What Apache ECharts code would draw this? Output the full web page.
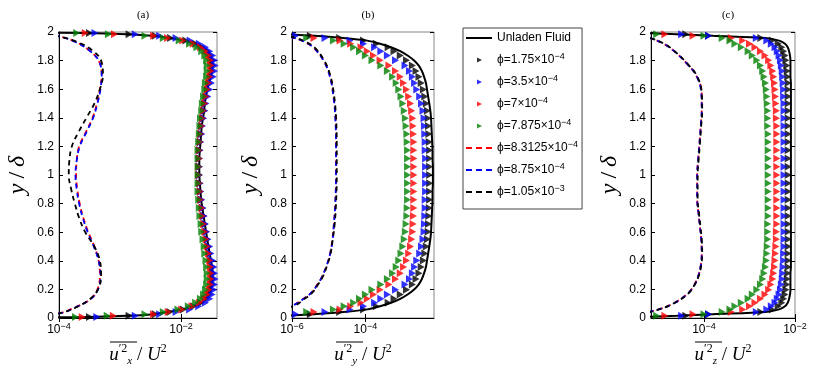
<!DOCTYPE html>
<html>
<head>
<meta charset="utf-8">
<script src="https://cdn.jsdelivr.net/npm/echarts@6/dist/echarts.min.js"></script>
<style>
  html, body { margin: 0; padding: 0; background: #fff; }
  #chart { width: 830px; height: 372px; }
</style>
</head>
<body>
<div id="chart"></div>
<script>
// wall-normal grid points y/delta (solid line and markers)
const yGrid = [0, 0.0017, 0.0068, 0.0152, 0.027, 0.042, 0.0603, 0.0818, 0.1064, 0.134, 0.1645, 0.1979, 0.234, 0.2726, 0.3138, 0.3572, 0.4028, 0.4505, 0.5, 0.5512, 0.6039, 0.658, 0.7132, 0.7694, 0.8264, 0.8839, 0.9419, 1,
  1.0581, 1.1161, 1.1736, 1.2306, 1.2868, 1.342, 1.3961, 1.4488, 1.5, 1.5495, 1.5972, 1.6428, 1.6862, 1.7274, 1.766, 1.8021, 1.8355, 1.866, 1.8936, 1.9182, 1.9397, 1.958, 1.973, 1.9848, 1.9932, 1.9983, 2]

// all x values are log10 of the stress / U^2
// (a) u_x
const aUnladen = [-6, -4.8, -3.57, -2.90, -2.45, -2.22, -1.98, -1.80, -1.67, -1.59, -1.54, -1.51, -1.49, -1.48, -1.48, -1.49, -1.51, -1.53, -1.55, -1.57, -1.59, -1.61, -1.63, -1.65, -1.67, -1.68, -1.69, -1.70,
  -1.70, -1.70, -1.69, -1.68, -1.67, -1.66, -1.64, -1.62, -1.61, -1.59, -1.57, -1.54, -1.51, -1.49, -1.48, -1.49, -1.52, -1.57, -1.65, -1.76, -1.93, -2.20, -2.45, -2.90, -3.57, -4.8, -6]
const aBlack = [-6, -4.7, -3.50, -2.85, -2.42, -2.18, -1.96, -1.79, -1.67, -1.59, -1.54, -1.51, -1.49, -1.48, -1.48, -1.49, -1.51, -1.53, -1.55, -1.57, -1.59, -1.61, -1.63, -1.65, -1.67, -1.68, -1.69, -1.70,
  -1.70, -1.70, -1.69, -1.68, -1.67, -1.66, -1.64, -1.62, -1.61, -1.59, -1.57, -1.54, -1.51, -1.49, -1.48, -1.49, -1.52, -1.57, -1.65, -1.76, -1.92, -2.17, -2.42, -2.85, -3.50, -4.7, -6]
const aBlue = [-6, -4.6, -3.38, -2.75, -2.35, -2.08, -1.86, -1.71, -1.60, -1.53, -1.49, -1.46, -1.45, -1.44, -1.45, -1.46, -1.48, -1.51, -1.53, -1.56, -1.58, -1.60, -1.62, -1.64, -1.66, -1.68, -1.69, -1.70,
  -1.70, -1.70, -1.69, -1.68, -1.66, -1.65, -1.63, -1.61, -1.59, -1.56, -1.53, -1.50, -1.47, -1.45, -1.44, -1.45, -1.48, -1.53, -1.60, -1.70, -1.85, -2.08, -2.35, -2.75, -3.41, -4.6, -6]
const aRed = [-6, -4.9, -3.62, -3.11, -2.45, -2.21, -1.99, -1.82, -1.70, -1.62, -1.57, -1.54, -1.52, -1.51, -1.51, -1.52, -1.53, -1.55, -1.57, -1.59, -1.61, -1.63, -1.65, -1.66, -1.68, -1.69, -1.70, -1.71,
  -1.71, -1.70, -1.70, -1.69, -1.68, -1.66, -1.65, -1.63, -1.61, -1.59, -1.57, -1.55, -1.53, -1.51, -1.51, -1.52, -1.55, -1.60, -1.68, -1.80, -1.97, -2.22, -2.45, -3.09, -3.57, -4.9, -6]
const aGreen = [-6, -5.0, -3.73, -3.21, -2.59, -2.29, -2.05, -1.88, -1.76, -1.68, -1.63, -1.60, -1.58, -1.57, -1.57, -1.58, -1.59, -1.61, -1.62, -1.64, -1.66, -1.67, -1.69, -1.70, -1.71, -1.72, -1.72, -1.72,
  -1.72, -1.72, -1.72, -1.71, -1.70, -1.69, -1.68, -1.66, -1.65, -1.63, -1.61, -1.60, -1.58, -1.57, -1.57, -1.58, -1.61, -1.66, -1.74, -1.86, -2.03, -2.29, -2.59, -3.19, -3.71, -5.0, -6]
const ydA = [0.02, 0.04, 0.07, 0.13, 0.2, 0.3, 0.4, 0.5, 0.6, 0.7, 0.8, 0.9, 1.0, 1.1, 1.2, 1.3, 1.4, 1.5, 1.6, 1.7, 1.8, 1.87, 1.93, 1.97, 1.99]
const aDashRed = [-4.15, -3.93, -3.76, -3.49, -3.37, -3.33, -3.35, -3.42, -3.52, -3.60, -3.66, -3.70, -3.72, -3.71, -3.67, -3.56, -3.45, -3.38, -3.33, -3.30, -3.35, -3.50, -3.72, -4.0, -4.3]
const aDashBlue = [-4.15, -3.92, -3.75, -3.49, -3.36, -3.32, -3.35, -3.43, -3.53, -3.61, -3.67, -3.71, -3.73, -3.71, -3.66, -3.55, -3.44, -3.37, -3.32, -3.30, -3.35, -3.50, -3.73, -4.0, -4.3]
const aDashBlack = [-4.15, -3.93, -3.74, -3.50, -3.36, -3.31, -3.33, -3.42, -3.57, -3.67, -3.74, -3.80, -3.84, -3.83, -3.79, -3.68, -3.55, -3.42, -3.33, -3.28, -3.31, -3.45, -3.70, -4.0, -4.3]

// (b) u_y
const bUnladen = [-8, -7.6, -7.0, -6.2, -5.4, -4.6, -3.95, -3.6, -3.3, -3.05, -2.85, -2.68, -2.55, -2.46, -2.40, -2.35, -2.32, -2.29, -2.26, -2.23, -2.21, -2.20, -2.19, -2.18, -2.17, -2.17, -2.16, -2.16,
  -2.16, -2.17, -2.17, -2.18, -2.19, -2.20, -2.21, -2.23, -2.26, -2.29, -2.32, -2.35, -2.40, -2.46, -2.55, -2.68, -2.85, -3.05, -3.3, -3.6, -3.95, -4.6, -5.4, -6.2, -7.0, -7.6, -8]
const bBlack = [-8, -7.6, -7.0, -6.4, -5.5, -4.7, -4.05, -3.70, -3.38, -3.22, -3.05, -2.88, -2.72, -2.62, -2.54, -2.48, -2.42, -2.38, -2.34, -2.31, -2.29, -2.28, -2.27, -2.26, -2.25, -2.25, -2.25, -2.25,
  -2.25, -2.25, -2.25, -2.26, -2.27, -2.28, -2.29, -2.31, -2.34, -2.38, -2.42, -2.48, -2.54, -2.62, -2.72, -2.88, -3.05, -3.22, -3.38, -3.70, -4.05, -4.7, -5.5, -6.4, -7.0, -7.6, -8]
const bBlue = [-8, -7.7, -7.2, -6.6, -5.9, -5.1, -4.42, -4.05, -3.75, -3.58, -3.40, -3.18, -2.92, -2.80, -2.72, -2.66, -2.60, -2.52, -2.47, -2.43, -2.40, -2.39, -2.38, -2.37, -2.37, -2.36, -2.36, -2.36,
  -2.36, -2.36, -2.37, -2.37, -2.38, -2.39, -2.40, -2.43, -2.47, -2.52, -2.60, -2.66, -2.72, -2.80, -2.92, -3.18, -3.40, -3.58, -3.75, -4.05, -4.42, -5.1, -5.9, -6.6, -7.2, -7.7, -8]
const bRed = [-8, -7.8, -7.4, -6.9, -6.2, -5.4, -4.69, -4.40, -4.12, -3.95, -3.78, -3.60, -3.36, -3.18, -3.05, -2.96, -2.88, -2.82, -2.77, -2.74, -2.71, -2.70, -2.69, -2.68, -2.68, -2.68, -2.68, -2.68,
  -2.68, -2.68, -2.68, -2.68, -2.69, -2.70, -2.71, -2.74, -2.77, -2.82, -2.88, -2.96, -3.05, -3.18, -3.36, -3.60, -3.78, -3.95, -4.12, -4.40, -4.69, -5.4, -6.2, -6.9, -7.4, -7.8, -8]
const bGreen = [-8, -7.9, -7.6, -7.1, -6.4, -5.6, -4.87, -4.58, -4.32, -4.16, -4.00, -3.82, -3.58, -3.40, -3.26, -3.16, -3.09, -3.03, -2.98, -2.94, -2.91, -2.89, -2.87, -2.86, -2.85, -2.85, -2.85, -2.85,
  -2.85, -2.85, -2.85, -2.86, -2.87, -2.89, -2.91, -2.94, -2.98, -3.03, -3.09, -3.16, -3.26, -3.40, -3.58, -3.82, -4.00, -4.16, -4.32, -4.58, -4.87, -5.6, -6.4, -7.1, -7.6, -7.9, -8]
const ydB = [0.06, 0.09, 0.13, 0.17, 0.23, 0.29, 0.37, 0.45, 0.55, 0.65, 0.8, 1.0, 1.2, 1.4, 1.55, 1.69, 1.8, 1.89, 1.93, 1.96, 1.98]
const bDashRed = [-6.4, -5.96, -5.72, -5.50, -5.32, -5.18, -5.05, -4.96, -4.90, -4.86, -4.82, -4.80, -4.80, -4.81, -4.87, -4.96, -5.14, -5.41, -5.65, -5.96, -6.4]
const bDashBlue = [-6.4, -5.96, -5.71, -5.50, -5.31, -5.18, -5.05, -4.96, -4.89, -4.86, -4.82, -4.80, -4.80, -4.82, -4.87, -4.97, -5.14, -5.41, -5.65, -5.96, -6.4]
const bDashBlack = [-6.3, -5.90, -5.68, -5.47, -5.30, -5.16, -5.04, -4.95, -4.89, -4.84, -4.80, -4.78, -4.78, -4.80, -4.85, -4.95, -5.12, -5.38, -5.62, -5.92, -6.3]

// (c) u_z
const cUnladen = [-7, -6.2, -5.4, -4.6, -3.8, -2.65, -2.35, -2.22, -2.16, -2.13, -2.11, -2.10, -2.10, -2.10, -2.10, -2.09, -2.09, -2.09, -2.09, -2.09, -2.09, -2.09, -2.09, -2.09, -2.09, -2.09, -2.09, -2.09,
  -2.09, -2.09, -2.09, -2.09, -2.09, -2.09, -2.09, -2.09, -2.09, -2.09, -2.09, -2.09, -2.10, -2.10, -2.10, -2.10, -2.11, -2.13, -2.16, -2.22, -2.35, -2.65, -3.8, -4.6, -5.4, -6.2, -7]
const cBlack = [-7, -6.3, -5.3, -4.40, -3.90, -2.75, -2.50, -2.37, -2.29, -2.25, -2.22, -2.20, -2.18, -2.17, -2.16, -2.15, -2.15, -2.15, -2.15, -2.15, -2.15, -2.15, -2.15, -2.15, -2.15, -2.15, -2.15, -2.15,
  -2.15, -2.15, -2.15, -2.15, -2.15, -2.15, -2.15, -2.15, -2.15, -2.15, -2.15, -2.15, -2.16, -2.17, -2.18, -2.20, -2.22, -2.25, -2.29, -2.37, -2.50, -2.75, -3.90, -4.40, -5.3, -6.3, -7]
const cBlue = [-7, -6.2, -5.2, -4.49, -3.90, -2.85, -2.62, -2.52, -2.44, -2.39, -2.35, -2.32, -2.30, -2.28, -2.27, -2.26, -2.25, -2.25, -2.24, -2.24, -2.24, -2.24, -2.24, -2.24, -2.24, -2.24, -2.24, -2.24,
  -2.24, -2.24, -2.24, -2.24, -2.24, -2.24, -2.24, -2.24, -2.24, -2.25, -2.25, -2.26, -2.27, -2.28, -2.30, -2.32, -2.35, -2.39, -2.44, -2.52, -2.62, -2.85, -3.90, -4.49, -5.2, -6.2, -7]
const cRed = [-7, -6.4, -5.6, -4.86, -4.24, -3.40, -3.15, -3.00, -2.88, -2.76, -2.66, -2.58, -2.53, -2.49, -2.47, -2.45, -2.44, -2.43, -2.42, -2.41, -2.41, -2.40, -2.40, -2.40, -2.40, -2.40, -2.40, -2.40,
  -2.40, -2.40, -2.40, -2.40, -2.40, -2.40, -2.41, -2.41, -2.42, -2.43, -2.44, -2.45, -2.47, -2.49, -2.53, -2.58, -2.66, -2.76, -2.88, -3.00, -3.15, -3.40, -4.24, -4.86, -5.6, -6.4, -7]
const cGreen = [-7, -6.6, -6.0, -5.04, -4.00, -3.60, -3.43, -3.32, -3.18, -3.03, -2.94, -2.84, -2.76, -2.71, -2.68, -2.65, -2.63, -2.62, -2.61, -2.60, -2.60, -2.60, -2.59, -2.59, -2.59, -2.59, -2.59, -2.59,
  -2.59, -2.59, -2.59, -2.59, -2.59, -2.60, -2.60, -2.60, -2.61, -2.62, -2.63, -2.65, -2.68, -2.71, -2.76, -2.84, -2.94, -3.03, -3.18, -3.32, -3.43, -3.60, -4.00, -5.04, -6.0, -6.6, -7]
const ydC = [0.03, 0.056, 0.103, 0.173, 0.23, 0.29, 0.37, 0.45, 0.55, 0.64, 0.73, 0.83, 1.0, 1.1, 1.22, 1.35, 1.45, 1.57, 1.69, 1.78, 1.87, 1.92, 1.956, 1.98]
const cDashRed = [-5.4, -5.04, -4.67, -4.35, -4.22, -4.13, -4.07, -4.05, -4.06, -4.09, -4.12, -4.15, -4.15, -4.13, -4.10, -4.07, -4.05, -4.05, -4.16, -4.38, -4.67, -4.90, -5.17, -5.5]
const cDashBlue = [-5.4, -5.04, -4.66, -4.35, -4.21, -4.13, -4.07, -4.05, -4.06, -4.09, -4.12, -4.15, -4.15, -4.13, -4.10, -4.07, -4.05, -4.06, -4.16, -4.38, -4.67, -4.90, -5.17, -5.5]
const cDashBlack = [-5.4, -5.03, -4.66, -4.34, -4.21, -4.12, -4.06, -4.04, -4.05, -4.08, -4.11, -4.14, -4.14, -4.12, -4.09, -4.06, -4.04, -4.05, -4.15, -4.37, -4.66, -4.89, -5.16, -5.5]

const seriesNames = ['Unladen Fluid', 'ϕ=1.75×10−4', 'ϕ=3.5×10−4', 'ϕ=7×10−4', 'ϕ=7.875×10−4', 'ϕ=8.3125×10−4', 'ϕ=8.75×10−4', 'ϕ=1.05×10−3']
const markerColors = ['#000000', '#0000ff', '#ff0000', '#008000']
const dashColors = ['#ff0000', '#0000ff', '#000000']
const dashOffsets = [0, 0.8, 1.6]
const panelTitles = ['(a)', '(b)', '(c)']
const subs = ['x', 'y', 'z']
const xRange = [[-4, -1.41], [-6, -2.13], [-5.165, -2]]
const xTicks = [[-4, -2], [-6, -4], [-4, -2]]

const panels = [
  { unladen: aUnladen, markers: [aBlack, aBlue, aRed, aGreen], yd: ydA, dashes: [aDashRed, aDashBlue, aDashBlack] },
  { unladen: bUnladen, markers: [bBlack, bBlue, bRed, bGreen], yd: ydB, dashes: [bDashRed, bDashBlue, bDashBlack] },
  { unladen: cUnladen, markers: [cBlack, cBlue, cRed, cGreen], yd: ydC, dashes: [cDashRed, cDashBlue, cDashBlack] }
]

const grids = [
  { left: 59, top: 32, width: 158, height: 286 },
  { left: 292, top: 32, width: 142, height: 286 },
  { left: 651, top: 32, width: 144, height: 286 }
]

const sansFont = 'Liberation Sans'
const serifFont = 'Liberation Serif'
const pairs = (xs, ys) => xs.map((x, i) => [x, ys[i]])

const xAxes = []
const yAxes = []
const series = []
const titles = []

grids.forEach((g, i) => {
  titles.push({
    text: panelTitles[i], left: g.left + g.width / 2, top: 5, textAlign: 'center',
    textStyle: { fontFamily: serifFont, fontSize: 11, fontWeight: 'normal', color: '#000' }
  })
  xAxes.push({
    type: 'value', gridIndex: i, position: 'bottom', min: xRange[i][0], max: xRange[i][1],
    axisLine: { lineStyle: { color: '#000', width: 1 } },
    axisTick: { inside: true, length: 4, customValues: xTicks[i], lineStyle: { color: '#000' } },
    axisLabel: {
      customValues: xTicks[i], margin: 4, color: '#000', fontFamily: sansFont, fontSize: 12, lineHeight: 16,
      formatter: v => '10{s|' + (v < 0 ? '−' : '') + Math.abs(Math.round(v)) + '}',
      rich: { s: { fontFamily: sansFont, fontSize: 9, lineHeight: 8, verticalAlign: 'top', color: '#000' } }
    },
    splitLine: { show: false },
    name: '{u|u}{p|′2}{b|' + subs[i] + '}{n| / }{u|U}{q|2}',
    nameLocation: 'middle', nameGap: 24,
    nameTextStyle: {
      color: '#000', lineHeight: 24,
      rich: {
        u: { fontFamily: serifFont, fontStyle: 'italic', fontSize: 19, color: '#000' },
        n: { fontFamily: serifFont, fontSize: 19, color: '#000' },
        p: { fontFamily: serifFont, fontSize: 12, verticalAlign: 'top', lineHeight: 12, color: '#000' },
        q: { fontFamily: serifFont, fontSize: 12, verticalAlign: 'top', lineHeight: 12, color: '#000' },
        b: { fontFamily: serifFont, fontStyle: 'italic', fontSize: 11, verticalAlign: 'bottom', lineHeight: 11, color: '#000' }
      }
    }
  })
  yAxes.push({
    type: 'value', gridIndex: i, position: 'left', min: 0, max: 2, interval: 0.2,
    axisLine: { lineStyle: { color: '#000', width: 1 } },
    axisTick: { inside: true, length: 4, lineStyle: { color: '#000' } },
    axisLabel: { margin: 5, color: '#000', fontFamily: sansFont, fontSize: 12 },
    splitLine: { show: false },
    name: '{i|y}{n|/}{i|δ}', nameLocation: 'middle', nameGap: 29, nameRotate: 90,
    nameTextStyle: {
      rich: {
        i: { fontFamily: serifFont, fontStyle: 'italic', fontSize: 24, color: '#000', padding: [0, 3] },
        n: { fontFamily: serifFont, fontSize: 24, color: '#000', padding: [0, 2] }
      }
    }
  })
})
// mirror ticks on top and right of every box
grids.forEach((g, i) => {
  xAxes.push({
    type: 'value', gridIndex: i, position: 'top', min: xRange[i][0], max: xRange[i][1],
    axisLine: { show: false },
    axisTick: { inside: true, length: 4, customValues: xTicks[i], lineStyle: { color: '#000' } },
    axisLabel: { show: false }, splitLine: { show: false }
  })
  yAxes.push({
    type: 'value', gridIndex: i, position: 'right', min: 0, max: 2, interval: 0.2,
    axisLine: { show: false },
    axisTick: { inside: true, length: 4, lineStyle: { color: '#000' } },
    axisLabel: { show: false }, splitLine: { show: false }
  })
})

panels.forEach((p, i) => {
  series.push({
    name: seriesNames[0], type: 'line', xAxisIndex: i, yAxisIndex: i,
    data: pairs(p.unladen, yGrid), symbol: 'none', smooth: 0.3, clip: true,
    lineStyle: { color: '#000', width: 2 }, itemStyle: { color: '#000' }, z: 2
  })
  p.markers.forEach((xs, k) => {
    series.push({
      name: seriesNames[1 + k], type: 'scatter', xAxisIndex: i, yAxisIndex: i,
      data: pairs(xs, yGrid), symbol: 'triangle', symbolRotate: -90, symbolSize: [8, 7], clip: true,
      itemStyle: { color: markerColors[k] }, z: 3
    })
  })
  p.dashes.forEach((xs, k) => {
    series.push({
      name: seriesNames[5 + k], type: 'line', xAxisIndex: i, yAxisIndex: i,
      data: pairs(xs, p.yd), symbol: 'none', smooth: 0.4, clip: true,
      lineStyle: { color: dashColors[k], width: 1.8, type: [5, 4], dashOffset: dashOffsets[k] },
      itemStyle: { color: dashColors[k] }, z: 4
    })
  })
})

const triIcon = 'path://M0,0L0,0Z M26,14L26,14Z M11,4.5L16,7L11,9.5Z'
const dashIcon = 'path://M0,0L0,0Z M26,14L26,14Z M0,6h6v2h-6z M10,6h6v2h-6z M20,6h6v2h-6z'
const solidIcon = 'path://M0,0L0,0Z M26,14L26,14Z M0,6h26v2h-26z'
const legendIcons = [solidIcon, triIcon, triIcon, triIcon, triIcon, dashIcon, dashIcon, dashIcon]

const option = {
  animation: false,
  backgroundColor: '#fff',
  title: titles,
  grid: grids.map(g => Object.assign({ show: true, borderColor: '#888', borderWidth: 1, backgroundColor: 'transparent' }, g)),
  xAxis: xAxes,
  yAxis: yAxes,
  legend: {
    orient: 'vertical', left: 463, top: 28, selectedMode: false,
    padding: [2, 4, 9, 3], itemGap: 6, itemWidth: 26, itemHeight: 14,
    borderColor: '#444', borderWidth: 1, backgroundColor: '#fff',
    itemStyle: { borderWidth: 0 },
    data: seriesNames.map((n, k) => ({ name: n, icon: legendIcons[k] })),
    formatter: name => name.replace(/10(−\d+)$/, '10{s|$1}'),
    textStyle: {
      fontFamily: sansFont, fontSize: 12, color: '#000', lineHeight: 16,
      rich: { s: { fontFamily: sansFont, fontSize: 9, lineHeight: 8, verticalAlign: 'top', color: '#000' } }
    }
  },
  graphic: [
    { type: 'line', shape: { x1: 110, y1: 342, x2: 137, y2: 342 }, style: { stroke: '#000', lineWidth: 1 } },
    { type: 'line', shape: { x1: 336, y1: 342, x2: 363, y2: 342 }, style: { stroke: '#000', lineWidth: 1 } },
    { type: 'line', shape: { x1: 695, y1: 342, x2: 722, y2: 342 }, style: { stroke: '#000', lineWidth: 1 } }
  ],
  series: series
}

const chart = echarts.init(document.getElementById('chart'), null, { renderer: 'canvas' })
chart.setOption(option)
</script>
</body>
</html>
